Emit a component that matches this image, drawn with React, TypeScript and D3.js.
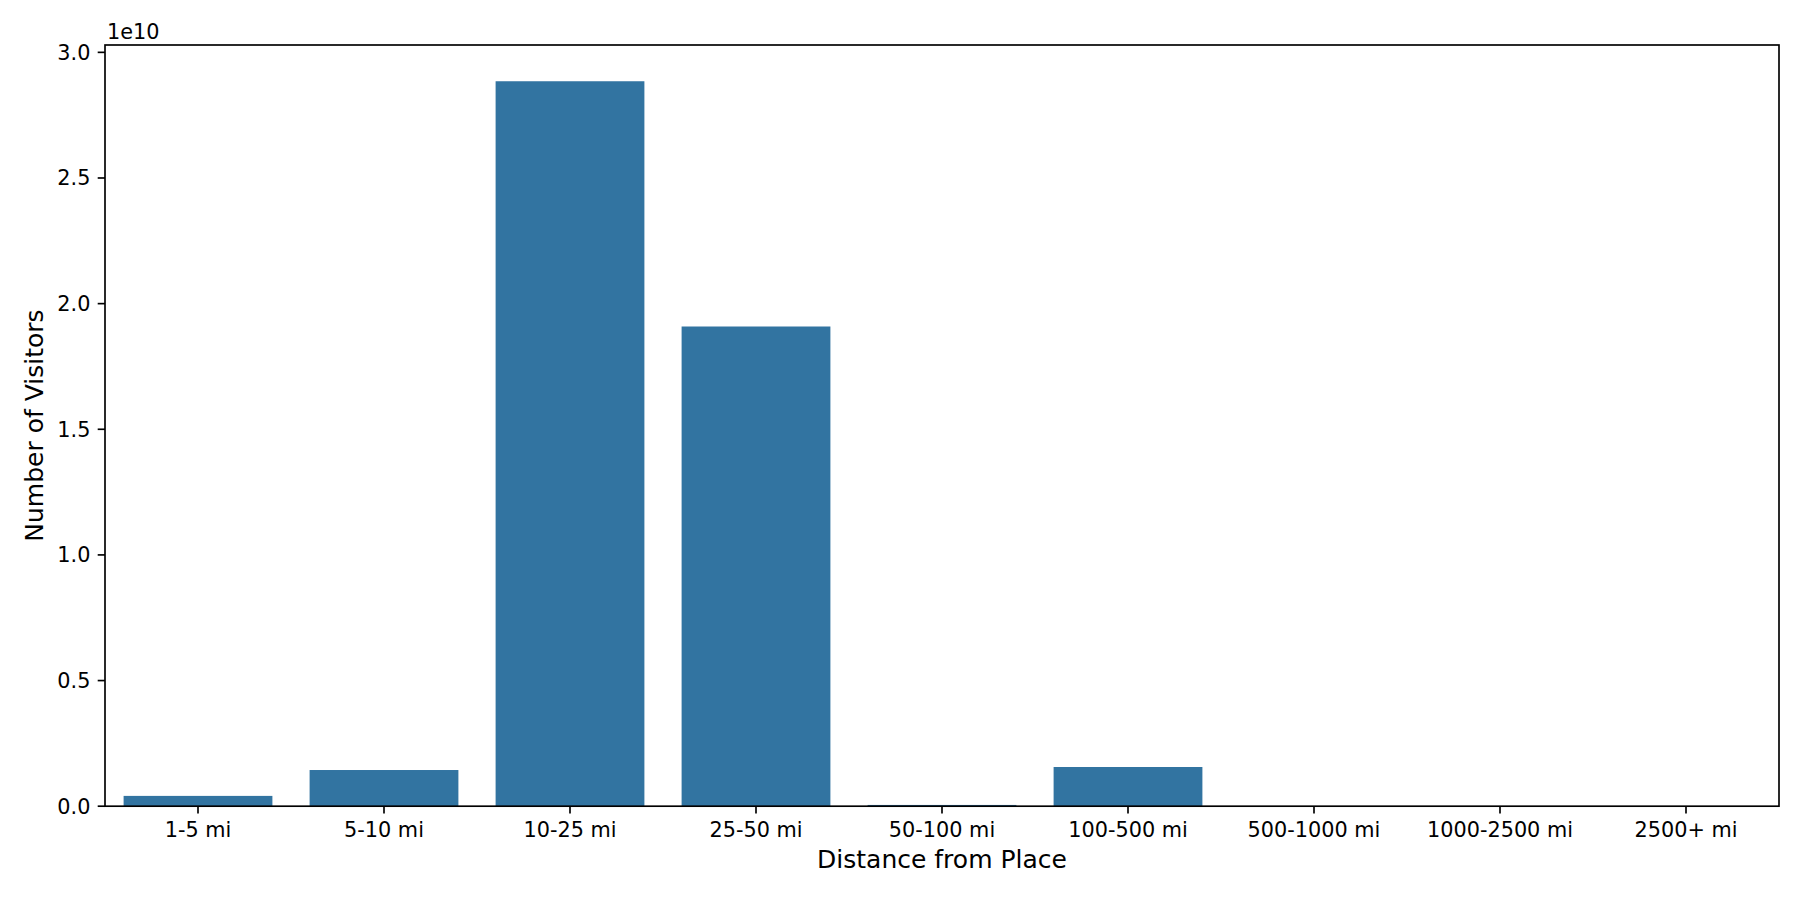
import React from "react";
import * as d3 from "d3";

const categories = [
  "1-5 mi",
  "5-10 mi",
  "10-25 mi",
  "25-50 mi",
  "50-100 mi",
  "100-500 mi",
  "500-1000 mi",
  "1000-2500 mi",
  "2500+ mi",
];
const visitors = [
  4.1e8, 1.44e9, 2.885e10, 1.909e10, 5.0e7, 1.56e9, 8.0e6, 6.0e6, 1.0e6,
];
const yTicks = [0, 0.5e10, 1.0e10, 1.5e10, 2.0e10, 2.5e10, 3.0e10];

const W = 1800;
const H = 900;
const left = 105;
const right = 1779;
const top = 45;
const bottom = 806.2;
const FONT = "'DejaVu Sans', sans-serif";
const BAR = "#3274a1";

export default function App() {
  const x = d3
    .scaleBand<string>()
    .domain(categories)
    .range([left, right])
    .paddingInner(0.2)
    .paddingOuter(0.1);
  const yMax = (d3.max(visitors) as number) * 1.05;
  const y = d3.scaleLinear().domain([0, yMax]).range([bottom, top]);
  const fmt = d3.format(".1f");

  return (
    <div style={{ position: "absolute", left: 0, top: 0 }}>
      <svg width={W} height={H} style={{ display: "block", background: "#fff" }}>
        <rect x={0} y={0} width={W} height={H} fill="#fff" />
        {categories.map((c, i) => (
          <rect
            key={c}
            x={x(c)}
            y={y(visitors[i])}
            width={x.bandwidth()}
            height={bottom - y(visitors[i])}
            fill={BAR}
          />
        ))}
        {/* y ticks */}
        {yTicks.map((t) => (
          <g key={t}>
            <line x1={left - 7.3} x2={left} y1={y(t)} y2={y(t)} stroke="#000" strokeWidth={1.67} />
            <text
              x={left - 14.6}
              y={y(t)}
              dy="0.36em"
              textAnchor="end"
              fontFamily={FONT}
              fontSize={20.8}
              fill="#000"
            >
              {fmt(t / 1e10)}
            </text>
          </g>
        ))}
        {/* x ticks */}
        {categories.map((c) => {
          const cx = (x(c) as number) + x.bandwidth() / 2;
          return (
            <g key={c}>
              <line x1={cx} x2={cx} y1={bottom} y2={bottom + 7.3} stroke="#000" strokeWidth={1.67} />
              <text
                x={cx}
                y={837}
                textAnchor="middle"
                fontFamily={FONT}
                fontSize={20.8}
                fill="#000"
              >
                {c}
              </text>
            </g>
          );
        })}
        {/* spines */}
        <rect
          x={left}
          y={top}
          width={right - left}
          height={bottom - top}
          fill="none"
          stroke="#000"
          strokeWidth={1.67}
        />
        <text x={left + 2} y={39} fontFamily={FONT} fontSize={20.8} fill="#000">
          1e10
        </text>
        <text
          x={(left + right) / 2}
          y={868}
          textAnchor="middle"
          fontFamily={FONT}
          fontSize={25}
          fill="#000"
        >
          Distance from Place
        </text>
        <text
          transform={`translate(43, ${(top + bottom) / 2}) rotate(-90)`}
          textAnchor="middle"
          fontFamily={FONT}
          fontSize={25}
          fill="#000"
        >
          Number of Visitors
        </text>
      </svg>
    </div>
  );
}
